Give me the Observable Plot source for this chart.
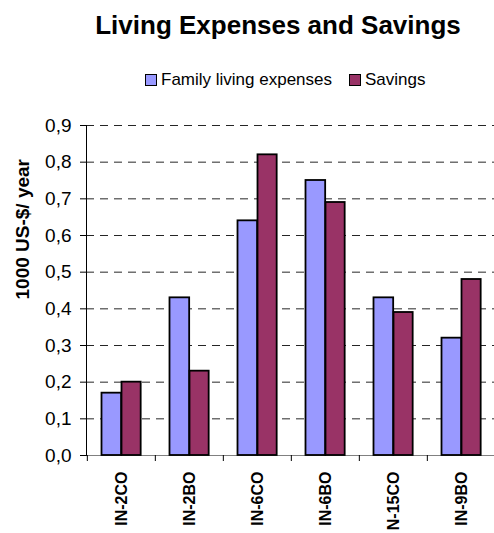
<!DOCTYPE html>
<html>
<head>
<meta charset="utf-8">
<script src="https://cdn.jsdelivr.net/npm/d3@7"></script>
<script src="https://cdn.jsdelivr.net/npm/@observablehq/plot@0.6"></script>
<style>
  body { margin: 0; background: #fff; font-family: "Liberation Sans", Arial, sans-serif; }
  #wrap { position: relative; width: 494px; height: 533px; overflow: hidden; }
  #title { position: absolute; left: 0; top: 10px; width: 556px; text-align: center; font-size: 26px; font-weight: bold; line-height: 30px; color: #000; }
  #legend { position: absolute; left: 145px; top: 70px; display: flex; align-items: center; font-size: 17px; line-height: 20px; color: #000; }
  .sw { width: 10px; height: 10px; border: 1.5px solid #000; margin-right: 4px; }
  .item { display: flex; align-items: center; margin-right: 17px; }
  #chart { position: absolute; left: 0; top: 100px; }
</style>
</head>
<body>
<div id="wrap">
  <div id="title">Living Expenses and Savings</div>
  <div id="legend"></div>
  <div id="chart"></div>
</div>
<script>
const categories = ["IN-2CO", "IN-2BO", "IN-6CO", "IN-6BO", "N-15CO", "IN-9BO"];
const seriesNames = ["Family living expenses", "Savings"];
const seriesColors = ["#9999FF", "#993366"];
const livingExpenses = [0.17, 0.43, 0.64, 0.75, 0.43, 0.32];
const savings = [0.20, 0.23, 0.82, 0.69, 0.39, 0.48];
const yTicks = [0, 0.1, 0.2, 0.3, 0.4, 0.5, 0.6, 0.7, 0.8, 0.9];
const yLabel = "1000 US-$/ year";

// legend
const legend = document.getElementById("legend");
seriesNames.forEach((name, i) => {
  const item = document.createElement("div");
  item.className = "item";
  const sw = document.createElement("div");
  sw.className = "sw";
  sw.style.background = seriesColors[i];
  const t = document.createElement("span");
  t.textContent = name;
  item.appendChild(sw);
  item.appendChild(t);
  legend.appendChild(item);
});

const rowsA = categories.map((c, i) => ({cat: c, value: livingExpenses[i]}));
const rowsB = categories.map((c, i) => ({cat: c, value: savings[i]}));

const width = 494;
const marginLeft = 86;
const xRange = [marginLeft, 496];
const half = (xRange[1] - xRange[0]) / categories.length / 2;
const fmt = d => d.toFixed(1).replace(".", ",");

const chart = Plot.plot({
  width,
  height: 433,
  marginLeft,
  marginRight: 0,
  marginTop: 25,
  marginBottom: 78,
  style: {fontFamily: "'Liberation Sans', Arial, sans-serif", background: "transparent", color: "#000"},
  x: {domain: categories, range: xRange, padding: 0},
  y: {domain: [0, 0.9], range: [355, 25]},
  marks: [
    Plot.gridY(yTicks.filter(d => d > 0), {stroke: "#000", strokeOpacity: 0.85, strokeDasharray: "8,6"}),
    Plot.ruleY([0], {stroke: "#808080", strokeWidth: 1}),
    Plot.barY(rowsA, {x: "cat", y: "value", fill: seriesColors[0], stroke: "#000", strokeWidth: 1.8, insetLeft: 14.5, insetRight: 2 * half - 34.5}),
    Plot.barY(rowsB, {x: "cat", y: "value", fill: seriesColors[1], stroke: "#000", strokeWidth: 1.8, insetLeft: 34.5, insetRight: 2 * half - 54}),
    Plot.axisY({ticks: yTicks, tickFormat: fmt, tickSize: 6, tickPadding: 9, fontSize: 19, label: null, stroke: "#000"}),
    Plot.frame({anchor: "left", stroke: "#000"}),
    Plot.axisX({tickSize: 6, text: null, label: null, dx: -half, stroke: "#000"}),
    Plot.axisX({tickSize: 0, tickRotate: -90, tickPadding: 16, fontSize: 16, fontWeight: "bold", label: null}),
    Plot.text([yLabel], {frameAnchor: "left", rotate: -90, dx: -64, dy: 9, fontSize: 19, fontWeight: "bold", fill: "#000"})
  ]
});
document.getElementById("chart").appendChild(chart);
</script>
</body>
</html>
